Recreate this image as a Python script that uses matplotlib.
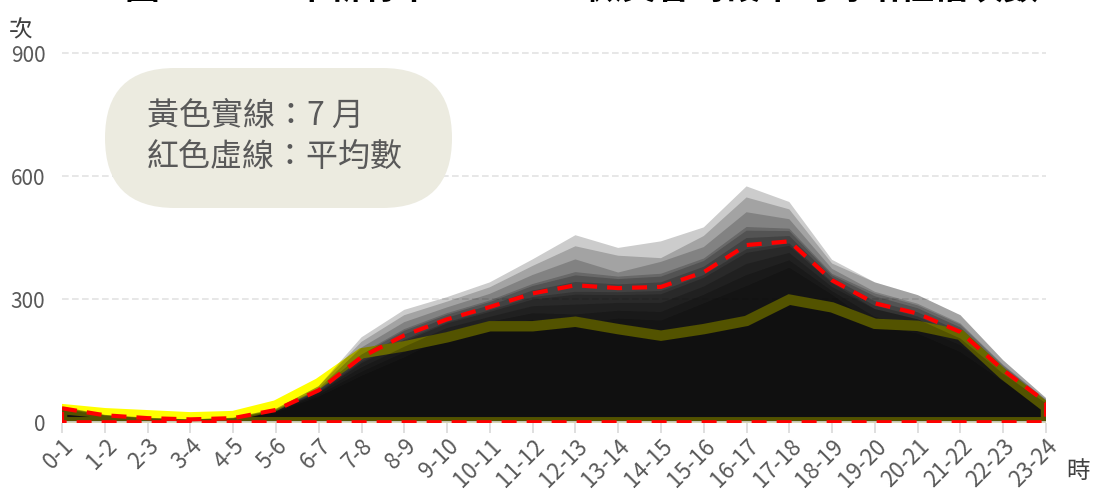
import matplotlib
matplotlib.use("Agg")
import matplotlib.pyplot as plt
from matplotlib.patches import FancyBboxPatch
from matplotlib.transforms import IdentityTransform

plt.rcParams['font.family'] = ['Noto Sans CJK TC', 'DejaVu Sans']

# hour slots on the x axis
hours = ['0-1', '1-2', '2-3', '3-4', '4-5', '5-6', '6-7', '7-8', '8-9', '9-10',
         '10-11', '11-12', '12-13', '13-14', '14-15', '15-16', '16-17', '17-18',
         '18-19', '19-20', '20-21', '21-22', '22-23', '23-24']

# monthly counts per hour slot (estimated)
jan = [31, 15, 8, 6, 9, 26, 67, 123, 171, 219, 245, 266, 263, 272, 269, 311, 359, 395, 320, 257, 233, 188, 109, 43]
feb = [29, 14, 8, 6, 8, 24, 62, 113, 158, 209, 233, 250, 240, 253, 248, 290, 332, 377, 311, 237, 216, 171, 99, 39]
mar = [34, 17, 9, 7, 10, 29, 77, 158, 214, 255, 285, 321, 342, 336, 341, 379, 449, 454, 352, 295, 268, 221, 128, 50]
apr = [32, 16, 9, 6, 9, 27, 72, 144, 197, 241, 269, 299, 311, 310, 312, 352, 413, 430, 339, 276, 251, 204, 118, 46]
may = [36, 17, 10, 7, 10, 31, 81, 168, 227, 266, 297, 337, 366, 355, 362, 399, 476, 472, 362, 314, 285, 238, 138, 54]
jun = [33, 16, 9, 6, 9, 28, 74, 148, 201, 244, 273, 305, 318, 317, 320, 359, 422, 436, 342, 284, 258, 211, 122, 48]
jul = [32, 22, 17, 12, 15, 41, 95, 168, 185, 207, 234, 234, 245, 227, 211, 227, 247, 299, 280, 240, 235, 213, 117, 37]
aug = [32, 16, 9, 6, 9, 27, 72, 134, 184, 230, 257, 283, 287, 291, 291, 331, 386, 413, 330, 276, 251, 204, 118, 46]
sep = [35, 17, 10, 7, 10, 30, 79, 165, 223, 262, 293, 332, 358, 349, 355, 393, 467, 466, 358, 307, 278, 231, 134, 52]
oct_ = [38, 18, 11, 7, 11, 33, 88, 196, 261, 294, 329, 381, 429, 406, 400, 454, 548, 519, 387, 341, 310, 261, 151, 59]
nov = [38, 18, 11, 7, 11, 33, 88, 207, 274, 305, 341, 397, 456, 425, 441, 475, 575, 537, 396, 341, 310, 261, 151, 59]
dec = [36, 17, 10, 7, 10, 31, 82, 182, 244, 280, 313, 359, 397, 365, 391, 427, 512, 495, 374, 318, 289, 241, 140, 55]

# yearly mean per hour slot
avg = [34, 17, 10, 7, 10, 30, 78, 159, 212, 251, 281, 314, 334, 327, 330, 366, 432, 441, 346, 290, 265, 220, 127, 49]

months = [jan, feb, mar, apr, may, jun, jul, aug, sep, oct_, nov, dec]
hilite = 6  # July

yticks = [0, 300, 600, 900]

fig = plt.figure(figsize=(11.02, 4.95), dpi=100)
ax = fig.add_axes([0.0563, 0.1445, 0.8929, 0.7524])

x = list(range(len(hours)))
px = x + [x[-1], x[0]]

for i, vals in enumerate(months):
    py = vals + [0, 0]
    if i == hilite:
        ax.fill(px, py, facecolor=(0, 0, 0, 0.2), edgecolor='#ffff00',
                linewidth=7.5, zorder=2)
    else:
        ax.fill(px, py, facecolor=(0, 0, 0, 0.2), edgecolor='none', zorder=2)

ax.axhline(0, color='#d9d9d9', lw=1.2, zorder=3)
ax.fill(px, avg + [0, 0], facecolor='none', edgecolor='#ff0000', linewidth=3,
        linestyle=(0, (3.6, 2.4)), zorder=4)

for v in yticks[1:]:
    ax.axhline(v, color='#e3e3e3', lw=1.2, linestyle=(0, (4, 2)), zorder=0)

ax.set_xlim(0, 23)
ax.set_ylim(-3, 905)
ax.set_yticks(yticks)
ax.set_yticklabels([str(v) for v in yticks], fontsize=15, color='#595959')
ax.set_xticks(x)
ax.set_xticklabels(hours, fontsize=16, color='#595959', rotation=45,
                   ha='right', rotation_mode='anchor')
ax.tick_params(axis='y', length=0, pad=12)
ax.tick_params(axis='x', length=7, width=1.2, color='#d9d9d9', pad=1)
for s in ax.spines.values():
    s.set_visible(False)

fig.text(0.008, 0.925, '次', fontsize=17, color='#404040')
fig.text(0.968, 0.035, '時', fontsize=17, color='#404040')

# legend note box
box = FancyBboxPatch((105, 287), 347, 140, boxstyle='round,pad=0,rounding_size=70',
                     transform=IdentityTransform(), facecolor='#ecebe0',
                     edgecolor='none', zorder=5)
fig.add_artist(box)
fig.text(0.133, 0.765, '黃色實線：7 月', fontsize=23, fontweight='light',
         color='#595959', va='center', zorder=6)
fig.text(0.133, 0.683, '紅色虛線：平均數', fontsize=23, fontweight='light',
         color='#595959', va='center', zorder=6)

fig.text(0.113, 1.004, '圖 6　112 年新竹市 YouBike 微笑各時段平均每站租借次數',
         fontsize=25, fontweight='bold', color='black', va='baseline')

fig.savefig('out.png', dpi=100)
